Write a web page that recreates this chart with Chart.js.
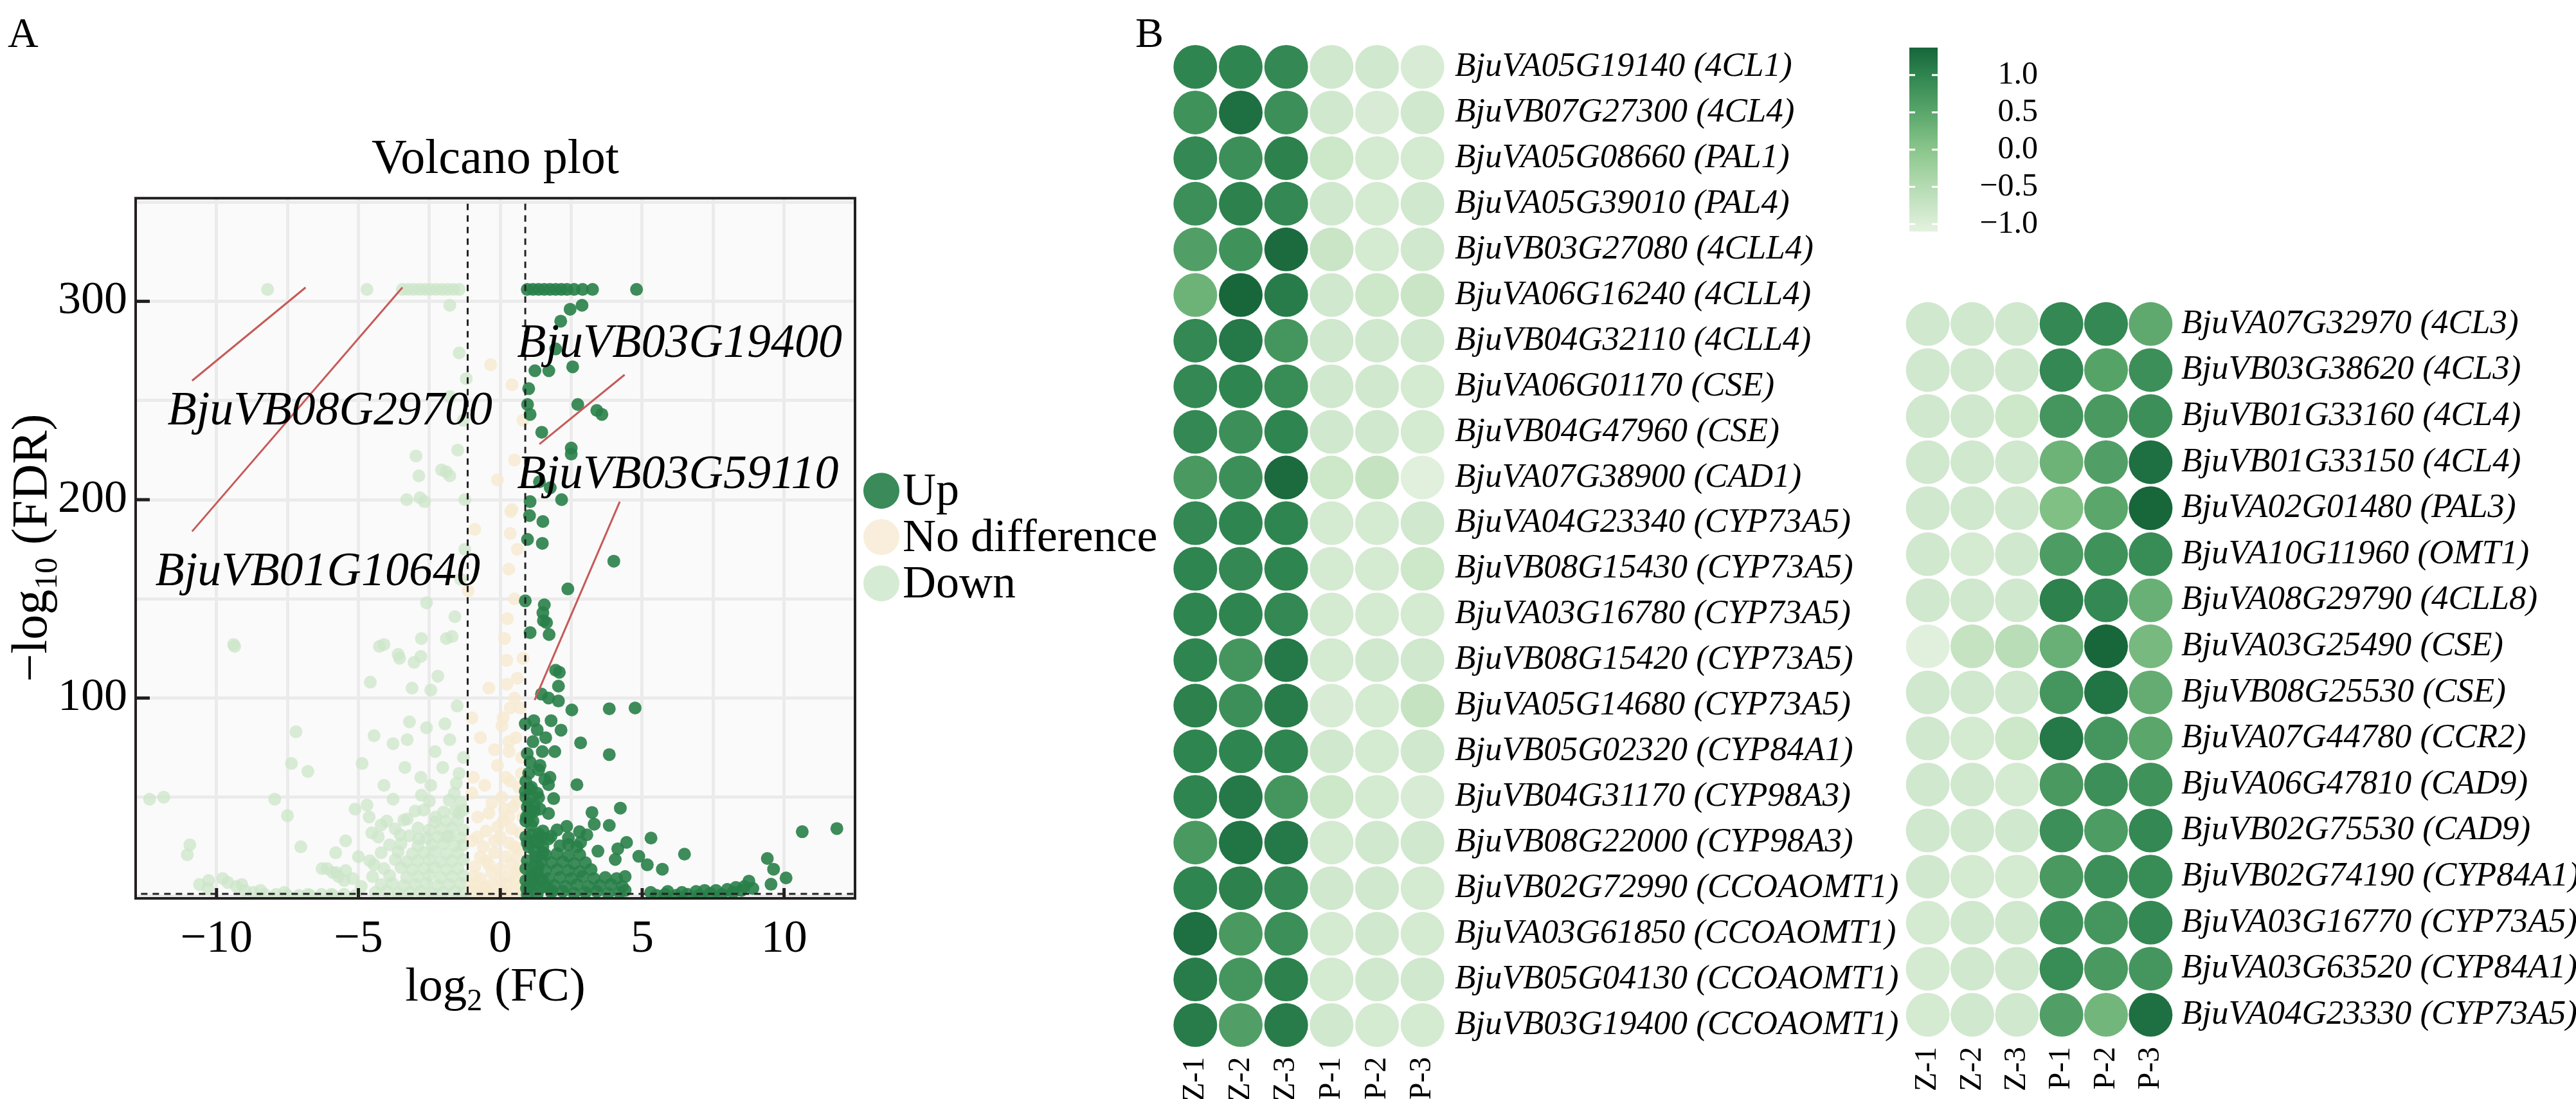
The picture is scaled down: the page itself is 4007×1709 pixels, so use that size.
<!DOCTYPE html>
<html>
<head>
<meta charset="utf-8">
<script src="https://cdn.jsdelivr.net/npm/chart.js@4.4.1/dist/chart.umd.min.js"></script>
<style>
  body { margin: 0; width: 4007px; height: 1709px; background: #fff; position: relative; overflow: hidden; font-family: "Liberation Serif", serif; }
  canvas { position: absolute; top: 0; }
  .panel { position: absolute; font-size: 66px; line-height: 1; color: #000; }
</style>
</head>
<body>
<div class="panel" style="left:12px; top:18px;">A</div>
<div class="panel" style="left:1766px; top:18px;">B</div>
<canvas id="volcano" width="1850" height="1709" style="left:0px"></canvas>
<canvas id="heatLeft" width="1170" height="1709" style="left:1790px"></canvas>
<canvas id="heatRight" width="1077" height="1709" style="left:2930px"></canvas>
<canvas id="colorBar" width="220" height="420" style="left:2950px"></canvas>
<script>
// ---- panel A: volcano plot data (log2 FC, -log10 FDR) ----
const upPoints = [
  [0.95,306],[1.15,306],[1.35,306],[1.55,306],[1.75,306],[1.95,306],[2.15,306],[2.35,306],[2.6,306],[2.9,306],[3.25,306],[4.8,306],
  [2.88,298],[2.46,296],[2.13,290],[1.95,276],[2.55,267],[1.71,265],[1.22,265],[1.0,256],[2.73,248],[3.4,245],[3.58,243],
  [0.96,248],[1.05,243],[1.46,234],[2.5,226],[2.5,223],[1.38,209],[1.76,206],[2.16,200],[1.05,199],[1.03,192],[1.5,189],
  [0.96,180],[1.48,178],[4.0,169],[2.38,155],[1.55,147],[1.5,143],[1.63,138],[0.88,149],[1.52,139],[1.05,133],[1.72,132],
  [1.95,114],[2.08,113],[2.05,106],[1.7,100],[2.05,98.5],[2.52,94],[3.84,94.6],[4.75,95],[1.18,88.6],[1.79,88.6],
  [2.14,83.8],[2.83,77.4],[3.84,71.5],[1.48,73],[1.92,73],[1.05,67.7],[1.35,63.8],[1.57,59],[1.7,56.3],[2.7,56.3],[1.05,54],
  [1.35,49.8],[1.88,49.3],[4.23,44.5],[3.23,42.3],[1.7,41.8],[1.0,41.2],[2.34,35.3],[3.31,36.4],[3.84,35.8],[2.79,32.6],
  [3.05,31],[5.31,29.4],[4.45,27.2],[1.09,35.8],[1.35,31.5],[1.79,30.4],[2.4,26.1],[2.83,27.2],[3.44,22.8],[4.14,24],
  [6.49,21.3],[4.05,18.6],[4.88,20.2],[5.18,15.9],[5.71,13.7],[9.41,19.1],[9.63,13.7],[10.07,9.3],[9.54,6.1],[10.64,32.6],
  [11.86,34.2],[0.88,87],[0.88,53],[1.2,46],[1.05,41],
  [0.9,58],[1.0,62],[0.95,45],[1.1,55],[1.3,52],[0.92,40],[1.15,38],[1.4,44],[0.9,30],[1.0,25],[1.2,28],[1.45,30],
  [1.25,20],[0.95,18],[1.5,22],[1.1,12],[1.35,15],[0.9,8],[1.0,4],[1.2,6],[1.4,9],[1.6,5],[1.8,3],[0.95,1],[1.3,1],
  [0.9,50],[1.0,47],[1.2,43],[0.9,38],[1.1,31],[1.35,27],[0.95,27],[1.2,23],[1.45,18],[0.9,14],[1.15,10],[1.4,4],
  [1.05,7],[1.3,12],[1.5,8],[0.92,4],[1.25,17],[1.75,60],[1.4,66],[1.15,78],[1.3,84],[1.6,80],[0.95,72],[1.45,102],
  [1.8,2],[2.2,2.5],[2.6,1.5],[3.0,2],[3.4,2.5],[3.8,1.5],[4.2,2],[4.4,3],
  [1.9,5.5],[2.3,5],[2.7,6],[3.1,5],[3.5,5.5],[3.9,6],[4.3,5],
  [1.7,9],[2.1,9.5],[2.5,9],[2.9,10],[3.3,9],[3.7,9.5],[4.1,9],[4.4,10],
  [1.6,13],[2.0,13.5],[2.4,13],[2.8,12.5],[3.2,13.5],
  [1.8,17],[2.2,17.5],[2.6,16.5],[3.0,17],
  [1.6,21],[2.0,21.5],[2.4,20.5],[2.8,21],
  [1.5,25],[2.1,25.5],[2.7,25],
  [1.7,29],[2.4,29.5],
  [1.5,33],[2.0,33.5],
  [5.5,0.5],[5.8,1],[6.2,0.5],[6.6,1],[7.0,0.5],[7.4,1.5],[7.8,1],[8.2,2],[8.5,3],[8.76,7.7],[8.6,5],[8.9,4],
  [5.3,2],[5.9,2.5],[6.4,2],[6.9,2.5],[7.2,3],[7.6,3],[8.0,3.5],[8.3,4.5]
];
const noDiffPoints = [
  [-0.34,268],[0.41,258],[0.37,194],[0.41,195],[0.35,183],[-1.13,154],[0.23,119],[0.23,107],[0.06,86],[0.31,73],
  [-0.8,2],[-0.5,4],[-0.2,1],[0.1,3],[0.4,2],[0.7,5],[-1.0,6],[-0.7,9],[-0.3,12],[0.0,8],[0.3,10],[0.6,14],[-0.9,15],
  [-0.5,18],[0.2,20],[0.5,25],[-0.2,28],[0.7,32],[-0.8,30],[0.1,38],[0.45,45],[-0.4,42],[0.65,55],[0.2,60],[-0.1,66],
  [0.55,80],[0.35,95],[0.6,110],[0.15,130],[0.5,150],[0.3,165],[-0.95,60],[-1.0,90],[0.75,70],[0.8,120],[-0.6,25],
  [0.05,50],[0.8,240],[-0.9,185],[0.6,20],[-0.1,35],[0.3,40],[-0.6,5],[0.25,6],
  [-1.0,3],[-0.6,1],[-0.3,6],[0.2,1],[0.5,8],[0.8,2],[-0.9,10],[-0.4,16],[0.0,14],[0.4,16],[0.75,12],[-0.7,20],[-0.2,22],
  [0.3,27],[0.65,24],[-1.0,28],[-0.5,33],[0.0,30],[0.4,34],[0.8,40],[-0.8,40],[-0.3,47],[0.15,44],[0.6,48],[-1.0,52],
  [-0.55,56],[0.35,58],[0.75,62],[-0.2,74],[0.3,78],[-0.7,80],[0.1,90],[0.5,100],[-0.4,105],[0.7,95],[0.25,140],
  [0.6,175],[-0.1,210],[0.5,220]
];
const downPoints = [
  [-3.45,306],[-3.25,306],[-3.05,306],[-2.85,306],[-2.65,306],[-2.45,306],[-2.25,306],[-2.05,306],[-1.85,306],[-1.65,306],
  [-1.45,306],[-8.2,306],[-4.7,306],
  [-1.78,298],[-1.45,274],[-1.2,261],[-1.78,252],[-2.97,222],[-1.9,214],[-1.78,212],[-2.83,201],[-2.67,199],[-1.25,200],
  [-9.4,127],[-4.1,127],[-1.7,131],[-2.78,130],[-2.87,212],[-3.3,200],[-2.07,215],[-3.6,122],[-2.8,121],[-1.9,130],
  [-1.6,141],[-2.6,148],[-1.3,240],[-1.5,225],[-1.25,175],[-1.4,160],
  [-9.36,126],[-4.26,126],[-3.55,120],[-3.04,118],[-2.2,111],[-4.58,108],[-3.11,105],[-2.45,104],[-1.52,96],[-3.2,88],
  [-1.95,87],[-7.2,83],[-4.45,81],[-3.78,77],[-3.28,79],[-1.78,79],[-7.36,67],[-6.78,63],[-4.87,67],[-3.36,65],[-4.1,56],
  [-2.03,65],[-1.45,62],[-2.45,56],[-12.36,49],[-11.86,50],[-7.95,49],[-5.12,44],[-4.7,46],[-3.78,49],[-2.78,51],[-1.62,52],
  [-7.5,40.7],[-4.62,40],[-4.2,36],[-3.28,39],[-2.28,40],[-1.45,42],[-5.45,28],[-4.53,32],[-3.53,31],[-2.87,29],[-1.87,30],
  [-10.94,26],[-7.03,25],[-11.03,21],[-6.28,14],[-5.78,12],[-5.45,13],[-4.45,16],[-10.28,8],[-9.78,9],[-9.11,6],[-8.45,3],
  [-7.61,2],[-6.78,1],[-5.95,1],
  [-10.6,6],[-10.3,4],[-9.6,7],[-9.3,5],[-9.0,3],[-8.7,2],[-8.3,1],[-7.9,1],[-7.5,0.5],[-7.1,0.5],[-6.7,0.5],[-6.3,1],
  [-5.9,0.5],[-5.5,1],[-5.1,0.5],[-6.1,14],[-5.9,12],[-5.7,10],[-5.5,8],
  [-4.4,2],[-4.0,2.5],[-3.6,1.5],[-3.2,2],[-2.8,2.5],[-2.4,1.5],[-2.0,2],[-1.6,2.5],[-1.3,1.5],
  [-4.2,6],[-3.8,6.5],[-3.4,5.5],[-3.0,6],[-2.6,6.5],[-2.2,5.5],[-1.8,6],[-1.4,6.5],
  [-4.5,10],[-3.9,10.5],[-3.3,9.5],[-2.9,10],[-2.5,10.5],[-2.1,9.5],[-1.7,10],[-1.3,10.5],
  [-4.1,14],[-3.5,14.5],[-3.1,13.5],[-2.7,14],[-2.3,14.5],[-1.9,13.5],[-1.5,14],
  [-4.6,18],[-3.7,18.5],[-3.3,17.5],[-2.9,18],[-2.5,18.5],[-2.1,17.5],[-1.7,18],[-1.3,18.5],
  [-4.2,22],[-3.6,22.5],[-3.1,21.5],[-2.7,22],[-2.3,22.5],[-1.9,21.5],[-1.5,22],
  [-3.9,26],[-3.5,26.5],[-2.9,25.5],[-2.4,26],[-2.0,26.5],[-1.6,25.5],[-1.3,26],
  [-4.3,30],[-3.2,30.5],[-2.6,29.5],[-2.2,30],[-1.8,30.5],[-1.4,29.5],
  [-3.7,34],[-2.9,34.5],[-2.5,33.5],[-2.1,34],[-1.7,34.5],[-1.3,33.5],
  [-4.0,38],[-3.4,38.5],[-2.3,37.5],[-1.9,38],[-1.5,38.5],
  [-3.0,43],[-2.7,43.5],[-2.0,42.5],[-1.6,43],[-1.3,43.5],
  [-2.5,48],[-1.8,48.5],[-1.4,47.5],
  [-5.0,20],[-5.8,22],[-4.9,5],[-5.2,9],[-1.55,57],[-2.8,60],[-1.3,70],[-2.3,73],[-2.6,85]
];
const fcCutoffs = [-1.15, 0.88];
const fdrCutoff = 1.3;
// callout lines: x1, y1, x2, y2
const calloutLines = [[-10.86,260,-6.86,307],[-10.86,184,-3.45,307],[1.38,228,4.38,263],[1.21,99,4.21,199]];
const calloutNames = ['BjuVB08G29700','BjuVB01G10640','BjuVB03G19400','BjuVB03G59110'];
const calloutAnchors = [[-11.73,238],[-12.16,157],[0.59,272],[0.59,206]];
const volcanoXTicks = [-10, -5, 0, 5, 10];
const volcanoYTicks = [100, 200, 300];
const groupNames = ['Up', 'No difference', 'Down'];

// ---- panel B: heatmaps ----
const samples = ['Z-1', 'Z-2', 'Z-3', 'P-1', 'P-2', 'P-3'];
const genesLeft = [
  'BjuVA05G19140 (4CL1)','BjuVB07G27300 (4CL4)','BjuVA05G08660 (PAL1)','BjuVA05G39010 (PAL4)','BjuVB03G27080 (4CLL4)',
  'BjuVA06G16240 (4CLL4)','BjuVB04G32110 (4CLL4)','BjuVA06G01170 (CSE)','BjuVB04G47960 (CSE)','BjuVA07G38900 (CAD1)',
  'BjuVA04G23340 (CYP73A5)','BjuVB08G15430 (CYP73A5)','BjuVA03G16780 (CYP73A5)','BjuVB08G15420 (CYP73A5)',
  'BjuVA05G14680 (CYP73A5)','BjuVB05G02320 (CYP84A1)','BjuVB04G31170 (CYP98A3)','BjuVB08G22000 (CYP98A3)',
  'BjuVB02G72990 (CCOAOMT1)','BjuVA03G61850 (CCOAOMT1)','BjuVB05G04130 (CCOAOMT1)','BjuVB03G19400 (CCOAOMT1)'
];
const valuesLeft = [
  [1.0, 1.0, 0.95, -0.85, -0.85, -0.95],
  [0.8, 1.25, 0.85, -0.85, -0.95, -0.85],
  [0.95, 0.85, 1.05, -0.8, -0.9, -0.9],
  [0.85, 1.05, 0.95, -0.85, -0.9, -0.85],
  [0.6, 0.8, 1.3, -0.75, -0.9, -0.85],
  [0.3, 1.35, 1.1, -0.85, -0.8, -0.75],
  [0.95, 1.15, 0.75, -0.85, -0.85, -0.85],
  [0.95, 1.0, 0.9, -0.85, -0.85, -0.9],
  [0.95, 0.85, 1.0, -0.85, -0.85, -0.9],
  [0.7, 0.85, 1.3, -0.8, -0.7, -1.05],
  [0.95, 1.0, 1.0, -0.9, -0.9, -0.85],
  [1.0, 0.95, 1.0, -0.9, -0.9, -0.8],
  [1.0, 1.0, 0.95, -0.9, -0.9, -0.9],
  [1.0, 0.75, 1.15, -0.9, -0.85, -0.85],
  [1.05, 0.85, 1.1, -0.95, -0.9, -0.7],
  [1.0, 1.0, 1.0, -0.85, -0.9, -0.85],
  [1.0, 1.15, 0.75, -0.8, -0.9, -0.95],
  [0.7, 1.2, 1.15, -0.9, -0.85, -0.85],
  [1.0, 1.05, 0.95, -0.85, -0.85, -0.9],
  [1.25, 0.7, 0.85, -0.9, -0.85, -0.9],
  [1.1, 0.75, 1.05, -0.9, -0.85, -0.85],
  [1.1, 0.6, 1.1, -0.85, -0.9, -0.9]
];
const genesRight = [
  'BjuVA07G32970 (4CL3)','BjuVB03G38620 (4CL3)','BjuVB01G33160 (4CL4)','BjuVB01G33150 (4CL4)','BjuVA02G01480 (PAL3)',
  'BjuVA10G11960 (OMT1)','BjuVA08G29790 (4CLL8)','BjuVA03G25490 (CSE)','BjuVB08G25530 (CSE)','BjuVA07G44780 (CCR2)',
  'BjuVA06G47810 (CAD9)','BjuVB02G75530 (CAD9)','BjuVB02G74190 (CYP84A1)','BjuVA03G16770 (CYP73A5)',
  'BjuVA03G63520 (CYP84A1)','BjuVA04G23330 (CYP73A5)'
];
const valuesRight = [
  [-0.85, -0.85, -0.85, 0.95, 0.95, 0.45],
  [-0.85, -0.85, -0.85, 0.95, 0.55, 0.85],
  [-0.85, -0.85, -0.8, 0.75, 0.7, 0.85],
  [-0.85, -0.85, -0.85, 0.3, 0.6, 1.25],
  [-0.85, -0.85, -0.85, 0.1, 0.5, 1.35],
  [-0.85, -0.9, -0.85, 0.65, 0.8, 0.9],
  [-0.85, -0.85, -0.85, 1.05, 0.95, 0.35],
  [-1.05, -0.7, -0.55, 0.35, 1.35, 0.2],
  [-0.85, -0.85, -0.85, 0.75, 1.2, 0.4],
  [-0.85, -0.9, -0.8, 1.15, 0.75, 0.5],
  [-0.85, -0.85, -0.9, 0.7, 0.85, 0.8],
  [-0.85, -0.85, -0.85, 0.85, 0.65, 0.95],
  [-0.85, -0.9, -0.9, 0.7, 0.85, 0.9],
  [-0.9, -0.85, -0.85, 0.8, 0.75, 0.95],
  [-0.9, -0.85, -0.85, 0.9, 0.7, 0.75],
  [-0.9, -0.85, -0.85, 0.6, 0.25, 1.25]
];
const colorTicks = [-1, -0.5, 0, 0.5, 1];
const colorRange = [-1.1, 1.37];
const colorStops = [-1.1, -0.5, 0, 0.5, 1.0, 1.37];
const colorHexes = ['#e4f2e0', '#b5dbb2', '#8ac68c', '#5aa66b', '#2f8550', '#16653a'];


const SERIF = '"Liberation Serif", "Times New Roman", serif';
Chart.defaults.font.family = SERIF;
Chart.defaults.color = '#000';
Chart.defaults.animation = false;
Chart.defaults.responsive = false;
Chart.defaults.devicePixelRatio = 1;
Chart.defaults.events = [];
Chart.defaults.plugins.legend.display = false;
Chart.defaults.plugins.tooltip.enabled = false;

const minus = v => (v < 0 ? '\u2212' : '') + Math.abs(v);

function hexToRgb(h) {
    const n = parseInt(h.slice(1), 16);
    return [(n >> 16) & 255, (n >> 8) & 255, n & 255];
}

function colorFor(v) {
    const c = Math.max(colorStops[0], Math.min(colorStops[colorStops.length - 1], v));
    let i = 0;
    while (i < colorStops.length - 2 && c > colorStops[i + 1]) i++;
    const t = (c - colorStops[i]) / (colorStops[i + 1] - colorStops[i]);
    const a = hexToRgb(colorHexes[i]), b = hexToRgb(colorHexes[i + 1]);
    const m = a.map((x, k) => Math.round(x + (b[k] - x) * t));
    return `rgb(${m[0]},${m[1]},${m[2]})`;
}

function drawRich(ctx, parts, x, y, angle) {
    ctx.save();
    ctx.translate(x, y);
    ctx.rotate(angle);
    let total = 0;
    parts.forEach(p => {
        ctx.font = `${p.size}px ${SERIF}`;
        p.w = ctx.measureText(p.text).width;
        total += p.w;
    });
    let cx = -total / 2;
    ctx.fillStyle = '#000';
    ctx.textBaseline = 'alphabetic';
    parts.forEach(p => {
        ctx.font = `${p.size}px ${SERIF}`;
        ctx.fillText(p.text, cx, p.dy || 0);
        cx += p.w;
    });
    ctx.restore();
}

const toXY = arr => arr.map(([x, y]) => ({ x, y }));

// ---- volcano chart ----
const legendColors = ['#3a8a5a', '#f8eedb', '#d6ebd3'];

const volcanoDecor = {
    id: 'volcanoDecor',
    beforeDraw(chart) {
        const { ctx, chartArea: a } = chart;
        ctx.save();
        ctx.fillStyle = '#fafafa';
        ctx.fillRect(a.left, a.top, a.right - a.left, a.bottom - a.top);
        ctx.restore();
    },
    afterDraw(chart) {
        const { ctx, chartArea: a, scales } = chart;
        ctx.save();
        // inward tick marks
        ctx.strokeStyle = '#231f20';
        ctx.lineWidth = 5;
        volcanoYTicks.forEach(v => {
            const py = scales.y.getPixelForValue(v);
            ctx.beginPath(); ctx.moveTo(a.left, py); ctx.lineTo(a.left + 22, py); ctx.stroke();
        });
        volcanoXTicks.forEach(v => {
            const px = scales.x.getPixelForValue(v);
            ctx.beginPath(); ctx.moveTo(px, a.bottom); ctx.lineTo(px, a.bottom - 16); ctx.stroke();
        });
        // frame
        ctx.lineWidth = 4;
        ctx.strokeRect(a.left, a.top, a.right - a.left, a.bottom - a.top);

        // callout names
        ctx.font = `italic 74px ${SERIF}`;
        ctx.fillStyle = '#000';
        ctx.textBaseline = 'alphabetic';
        calloutNames.forEach((name, i) => {
            const [x, y] = calloutAnchors[i];
            ctx.fillText(name, scales.x.getPixelForValue(x), scales.y.getPixelForValue(y));
        });

        // legend
        ctx.font = `72px ${SERIF}`;
        ctx.textBaseline = 'middle';
        groupNames.forEach((name, i) => {
            const cy = a.top + 455 + i * 72;
            const cx = a.right + 41;
            ctx.fillStyle = legendColors[i];
            ctx.beginPath(); ctx.arc(cx, cy, 28, 0, Math.PI * 2); ctx.fill();
            ctx.fillStyle = '#000';
            ctx.fillText(name, cx + 33, cy + 3);
        });
        ctx.restore();

        // axis titles with subscripts
        drawRich(ctx, [
            { text: 'log', size: 75 }, { text: '2', size: 48, dy: 15 }, { text: ' (FC)', size: 75 }
        ], (a.left + a.right) / 2, 1556, 0);
        drawRich(ctx, [
            { text: '\u2212log', size: 78 }, { text: '10', size: 50, dy: 16 }, { text: ' (FDR)', size: 78 }
        ], 72, 852, -Math.PI / 2);
    }
};

const refLine = { showLine: true, pointRadius: 0, borderColor: '#222', borderWidth: 3, borderDash: [10, 8] };

new Chart(document.getElementById('volcano'), {
    type: 'scatter',
    data: {
        datasets: [
            ...calloutLines.map(s => ({
                data: [{ x: s[0], y: s[1] }, { x: s[2], y: s[3] }],
                showLine: true, pointRadius: 0, borderColor: '#c65a58', borderWidth: 3
            })),
            ...fcCutoffs.map(v => ({ ...refLine, data: [{ x: v, y: -10 }, { x: v, y: 400 }] })),
            { ...refLine, data: [{ x: -20, y: fdrCutoff }, { x: 20, y: fdrCutoff }] },
            { label: groupNames[0], data: toXY(upPoints), pointRadius: 10, borderWidth: 0, backgroundColor: 'rgba(40,128,72,0.9)' },
            { label: groupNames[1], data: toXY(noDiffPoints), pointRadius: 10, borderWidth: 0, backgroundColor: 'rgba(246,234,208,0.8)' },
            { label: groupNames[2], data: toXY(downPoints), pointRadius: 10, borderWidth: 0, backgroundColor: 'rgba(204,230,200,0.75)' }
        ]
    },
    options: {
        layout: { padding: { left: 0, right: 520, top: 0, bottom: 0 } },
        plugins: {
            title: {
                display: true,
                text: 'Volcano plot',
                fullSize: false,
                font: { size: 76, weight: 'normal', family: SERIF },
                color: '#000',
                padding: { top: 203, bottom: 14 }
            }
        },
        scales: {
            x: {
                type: 'linear',
                min: -12.85,
                max: 12.5,
                afterFit: s => { s.height = 312; },
                border: { display: false },
                grid: {
                    drawTicks: false,
                    lineWidth: 5,
                    color: c => (Math.abs(c.tick.value) <= 10.01 ? '#ebebeb' : 'rgba(0,0,0,0)')
                },
                ticks: {
                    stepSize: 2.5,
                    includeBounds: false,
                    autoSkip: false,
                    maxRotation: 0,
                    padding: 21,
                    font: { size: 72 },
                    color: '#000',
                    callback: v => (volcanoXTicks.includes(v) ? minus(v) : '')
                }
            },
            y: {
                type: 'linear',
                min: -1,
                max: 352,
                afterFit: s => { s.width = 211; },
                border: { display: false },
                grid: { drawTicks: false, lineWidth: 5, color: '#ebebeb' },
                ticks: {
                    stepSize: 50,
                    includeBounds: false,
                    autoSkip: false,
                    padding: 13,
                    font: { size: 72 },
                    color: '#000',
                    callback: v => (volcanoYTicks.includes(v) ? String(v) : '')
                }
            }
        }
    },
    plugins: [volcanoDecor]
});

// ---- heatmaps ----
function heatPoints(genes, values) {
    const pts = [];
    genes.forEach((g, r) => samples.forEach((s, c) => pts.push({ x: s, y: g, v: values[r][c] })));
    return pts;
}

function heatChart(id, genes, values, box) {
    return new Chart(document.getElementById(id), {
        type: 'scatter',
        data: {
            datasets: [{
                data: heatPoints(genes, values),
                pointRadius: 34,
                borderWidth: 0,
                backgroundColor: c => colorFor(c.raw.v)
            }]
        },
        options: {
            layout: { padding: { left: box.left, top: box.top, right: 0, bottom: 0 } },
            scales: {
                x: {
                    type: 'category',
                    labels: samples,
                    offset: true,
                    afterFit: s => { s.height = box.xHeight; },
                    grid: { display: false },
                    border: { display: false },
                    ticks: { minRotation: 90, maxRotation: 90, autoSkip: false, padding: 6, font: { size: 48 }, color: '#000' }
                },
                y: {
                    type: 'category',
                    labels: genes,
                    position: 'right',
                    offset: true,
                    afterFit: s => { s.width = box.yWidth; },
                    grid: { display: false },
                    border: { display: false },
                    ticks: { autoSkip: false, padding: box.labelPad, font: { size: 53, style: 'italic' }, color: '#000' }
                }
            }
        }
    });
}

heatChart('heatLeft', genesLeft, valuesLeft, { left: 26, top: 68.5, xHeight: 79.5, yWidth: 712, labelPad: 7 });
heatChart('heatRight', genesRight, valuesRight, { left: 20, top: 468, xHeight: 95.2, yWidth: 627, labelPad: 5 });

// ---- colour bar ----
const barTicks = {
    id: 'barTicks',
    afterDatasetsDraw(chart) {
        const { ctx, chartArea: a, scales } = chart;
        ctx.save();
        ctx.strokeStyle = '#fff';
        ctx.lineWidth = 3;
        colorTicks.forEach(v => {
            const py = scales.y.getPixelForValue(v);
            ctx.beginPath();
            ctx.moveTo(a.left, py); ctx.lineTo(a.left + 9, py);
            ctx.moveTo(a.right - 9, py); ctx.lineTo(a.right, py);
            ctx.stroke();
        });
        ctx.restore();
    }
};

new Chart(document.getElementById('colorBar'), {
    type: 'bar',
    data: {
        labels: ['scale'],
        datasets: [{
            data: [colorRange],
            barPercentage: 1,
            categoryPercentage: 1,
            borderWidth: 0,
            backgroundColor: c => {
                const { chart } = c;
                const a = chart.chartArea;
                if (!a) return colorHexes[0];
                const y = chart.scales.y;
                const g = chart.ctx.createLinearGradient(0, y.getPixelForValue(colorRange[0]), 0, y.getPixelForValue(colorRange[1]));
                colorStops.forEach((s, i) => g.addColorStop((s - colorRange[0]) / (colorRange[1] - colorRange[0]), colorHexes[i]));
                return g;
            }
        }]
    },
    options: {
        layout: { padding: { left: 20, top: 74, right: 0, bottom: 41 } },
        scales: {
            x: { display: false },
            y: {
                position: 'right',
                min: colorRange[0],
                max: colorRange[1],
                afterFit: s => { s.width = 156; },
                grid: { display: false },
                border: { display: false },
                ticks: {
                    stepSize: 0.5,
                    includeBounds: false,
                    crossAlign: 'far',
                    padding: 30,
                    font: { size: 50 },
                    color: '#000',
                    callback: v => (v < 0 ? '\u2212' : '') + Math.abs(v).toFixed(1)
                }
            }
        }
    },
    plugins: [barTicks]
});
</script>
</body>
</html>
